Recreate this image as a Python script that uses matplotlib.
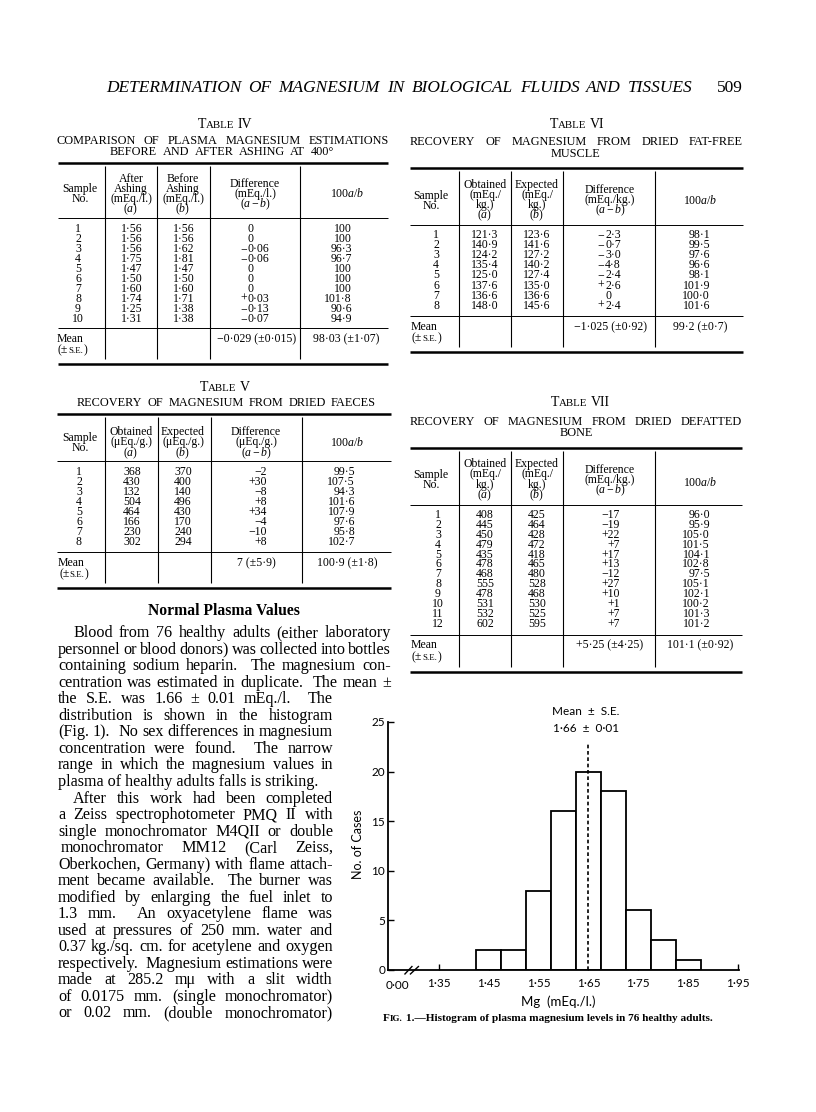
import matplotlib
matplotlib.use('Agg')
import matplotlib.pyplot as plt
from matplotlib.lines import Line2D

plt.rcParams['mathtext.fontset'] = 'custom'
plt.rcParams['mathtext.rm'] = 'Liberation Serif'
plt.rcParams['mathtext.it'] = 'Liberation Serif:italic'
plt.rcParams['mathtext.bf'] = 'Liberation Serif:bold'

# ================= DATA =================
# Fig. 1 histogram
mg_bin_centres = [1.45, 1.50, 1.55, 1.60, 1.65, 1.70, 1.75, 1.80, 1.85]
mg_counts = [2, 2, 8, 16, 20, 18, 6, 3, 1]
mg_bin_width = 0.05
mg_mean = 1.66
mg_se = 0.01
mg_mean_marker = 1.65
mg_xticks = [1.35, 1.45, 1.55, 1.65, 1.75, 1.85, 1.95]
mg_yticks = [0, 5, 10, 15, 20, 25]
mg_zero_label = "0·00"

# Table IV
t4_sample = list(range(1, 11))
t4_after = [1.56, 1.56, 1.56, 1.75, 1.47, 1.50, 1.60, 1.74, 1.25, 1.31]
t4_before = [1.56, 1.56, 1.62, 1.81, 1.47, 1.50, 1.60, 1.71, 1.38, 1.38]
t4_diff = ["0", "0", "−0·06", "−0·06", "0", "0", "0", "+0·03", "−0·13", "−0·07"]
t4_ratio = ["100", "100", "96·3", "96·7", "100", "100", "100", "101·8", "90·6", "94·9"]
t4_mean = ["−0·029 (±0·015)", "98·03 (±1·07)"]

# Table V
t5_sample = list(range(1, 9))
t5_obtained = [368, 430, 132, 504, 464, 166, 230, 302]
t5_expected = [370, 400, 140, 496, 430, 170, 240, 294]
t5_diff = ["−2", "+30", "−8", "+8", "+34", "−4", "−10", "+8"]
t5_ratio = ["99·5", "107·5", "94·3", "101·6", "107·9", "97·6", "95·8", "102·7"]
t5_mean = ["7 (±5·9)", "100·9 (±1·8)"]

# Table VI
t6_sample = list(range(1, 9))
t6_obtained = [121.3, 140.9, 124.2, 135.4, 125.0, 137.6, 136.6, 148.0]
t6_expected = [123.6, 141.6, 127.2, 140.2, 127.4, 135.0, 136.6, 145.6]
t6_diff = ["−2·3", "−0·7", "−3·0", "−4·8", "−2·4", "+2·6", "0", "+2·4"]
t6_ratio = ["98·1", "99·5", "97·6", "96·6", "98·1", "101·9", "100·0", "101·6"]
t6_mean = ["−1·025 (±0·92)", "99·2 (±0·7)"]

# Table VII
t7_sample = list(range(1, 13))
t7_obtained = [408, 445, 450, 479, 435, 478, 468, 555, 478, 531, 532, 602]
t7_expected = [425, 464, 428, 472, 418, 465, 480, 528, 468, 530, 525, 595]
t7_diff = ["−17", "−19", "+22", "+7", "+17", "+13", "−12", "+27", "+10", "+1", "+7", "+7"]
t7_ratio = ["96·0", "95·9", "105·0", "101·5", "104·1", "102·8", "97·5", "105·1", "102·1", "100·2", "101·3", "101·2"]
t7_mean = ["+5·25 (±4·25)", "101·1 (±0·92)"]

running_head = "DETERMINATION OF MAGNESIUM IN BIOLOGICAL FLUIDS AND TISSUES"
page_no = "509"
section_title = "Normal Plasma Values"
body_lines = [
    "Blood from 76 healthy adults (either laboratory",
    "personnel or blood donors) was collected into bottles",
    "containing sodium heparin.  The magnesium con-",
    "centration was estimated in duplicate.  The mean ±",
    "the S.E. was 1.66 ± 0.01 mEq./l.  The",
    "distribution is shown in the histogram",
    "(Fig. 1).  No sex differences in magnesium",
    "concentration were found.  The narrow",
    "range in which the magnesium values in",
    "plasma of healthy adults falls is striking.",
    "After this work had been completed",
    "a Zeiss spectrophotometer PMQ II with",
    "single monochromator M4QII or double",
    "monochromator MM12 (Carl Zeiss,",
    "Oberkochen, Germany) with flame attach-",
    "ment became available.  The burner was",
    "modified by enlarging the fuel inlet to",
    "1.3 mm.  An oxyacetylene flame was",
    "used at pressures of 250 mm. water and",
    "0.37 kg./sq. cm. for acetylene and oxygen",
    "respectively.  Magnesium estimations were",
    "made at 285.2 mμ with a slit width",
    "of 0.0175 mm. (single monochromator)",
    "or 0.02 mm. (double monochromator)",
]
caption_text = "1.—Histogram of plasma magnesium levels in 76 healthy adults."

# ================= DRAWING =================
W, H = 816, 1112
fig = plt.figure(figsize=(W / 100, H / 100), dpi=100)
fig.patch.set_facecolor('white')
R = fig.canvas.get_renderer()
SERIF = 'Liberation Serif'
SANS = 'Lato'
TS = 8.5
CAPS = 8.8


def X(x):
    return x / W


def Y(y):
    return 1 - y / H


def T(x, y, s, size, ha='left', family=SERIF, **kw):
    return fig.text(X(x), Y(y + 0.46 * size), s, fontsize=size, ha=ha,
                    va='baseline', family=family, **kw)


def wid(t):
    return t.get_window_extent(R).width


def justify(s, x0, x1, y, size, **kw):
    tokens = s.split(' ')
    words, weights = [], []
    pending = 0
    for tok in tokens:
        if tok == '':
            pending += 1
            continue
        if words:
            weights.append(1 + pending)
        pending = 0
        words.append(tok)
    ts = [T(x0, y, w, size, **kw) for w in words]
    ws = [wid(t) for t in ts]
    if len(words) == 1:
        return
    unit = (x1 - x0 - sum(ws)) / sum(weights)
    if unit < 1.5:
        # too long for the measure: shrink this line slightly
        for t in ts:
            t.remove()
        justify(s, x0, x1, y, size * 0.97, **kw)
        return
    x = x0
    for i, (t, w) in enumerate(zip(ts, ws)):
        t.set_x(X(x))
        x += w
        if i < len(weights):
            x += unit * weights[i]


def segs(parts, x, y, ha='left', family=SERIF, fit=None, **kw):
    big = max(p[1] for p in parts)
    scale = 1.0
    for it in range(2):
        ts = [fig.text(0, Y(y + 0.46 * big * scale), s, fontsize=sz * scale,
                       family=family, va='baseline', ha='left', **kw)
              for s, sz, g in parts]
        ws = [wid(t) for t in ts]
        total = sum(ws) + sum(p[2] for p in parts[:-1]) * scale
        if fit is None or it == 1:
            break
        for t in ts:
            t.remove()
        scale = fit / total
    if ha == 'center':
        x0 = x - total / 2
    elif ha == 'right':
        x0 = x - total
    else:
        x0 = x
    for t, w, p in zip(ts, ws, parts):
        t.set_x(X(x0))
        x0 += w + p[2] * scale


def hl(x0, x1, y, lw):
    fig.add_artist(Line2D([X(x0), X(x1)], [Y(y), Y(y)], lw=lw, color='black',
                          solid_capstyle='butt'))


def vl(x, y0, y1, lw=0.8):
    fig.add_artist(Line2D([X(x), X(x)], [Y(y0), Y(y1)], lw=lw, color='black',
                          solid_capstyle='butt'))


def frame(x0, x1, cols, y_top, y_head, y_mid, y_bot):
    hl(x0, x1, y_top, 1.8)
    hl(x0, x1, y_head, 0.7)
    hl(x0, x1, y_mid, 0.7)
    hl(x0, x1, y_bot, 1.8)
    for c in cols:
        vl(c, y_top + 3, y_bot - 5)


def rows(y0, y1, n):
    return [y0 + (y1 - y0) * i / (n - 1) for i in range(n)]


def col(vals, x, ys, ha='center'):
    for v, y in zip(vals, ys):
        T(x, y, str(v), TS, ha=ha)


def col_signed(vals, x, ys):
    for v, y in zip(vals, ys):
        if v[0] in '+−':
            T(x - 0.5, y, v[0], TS, ha='right')
            T(x, y, v[1:], TS)
        else:
            T(x, y, v, TS)


def head(lines, x, y0, dy=10):
    for i, s in enumerate(lines):
        T(x, y0 + i * dy, s, TS, ha='center')


def mean_label(x, y1, y2):
    T(x, y1, "Mean", TS)
    segs([("(±", TS, 0), ("S.E.", TS * 0.75, 0), (")", TS, 0)], x + 1, y2)


def table_title(num, xc, y):
    segs([("T", 10, 0), ("ABLE", 7.8, 3.5), (num, 10, 0)], xc, y, ha='center')


f2 = lambda v: f"{v:.2f}".replace('.', '·')
f1 = lambda v: f"{v:.1f}".replace('.', '·')
A = r"($\mathit{a}$)"
B = r"($\mathit{b}$)"
AB = r"($\mathit{a}-\mathit{b}$)"
RAT = r"100$\mathit{a/b}$"

# ---- running head ----
justify(running_head, 106, 693, 86, 12.5, style='italic')
T(743, 86, page_no, 12.5, ha='right')

# ---- Table IV ----
table_title("IV", 225, 123)
justify("COMPARISON OF PLASMA MAGNESIUM ESTIMATIONS", 56, 389, 140, CAPS)
justify("BEFORE AND AFTER ASHING AT 400°", 110, 334, 150.5, CAPS)
frame(58, 388, [105, 157, 210, 300], 163, 218, 328, 364)
head(["Sample", "No."], 80, 188)
head(["After", "Ashing", "(mEq./l.)", A], 131, 178)
head(["Before", "Ashing", "(mEq./l.)", B], 183, 178)
head(["Difference", "(mEq./l.)", AB], 255, 183)
head([RAT], 347, 193)
ys = rows(228, 318, len(t4_sample))
col(t4_sample, 78, ys)
col([f2(v) for v in t4_after], 132, ys)
col([f2(v) for v in t4_before], 184, ys)
col_signed(t4_diff, 248, ys)
col(t4_ratio, 352, ys, ha='right')
mean_label(57, 338, 349)
T(257, 338, t4_mean[0], TS, ha='center')
T(346, 338, t4_mean[1], TS, ha='center')

# ---- Table V ----
table_title("V", 225, 386)
justify("RECOVERY OF MAGNESIUM FROM DRIED FAECES", 77, 376, 402, CAPS)
frame(57, 391, [105, 158, 211, 302], 414, 461, 552, 588)
head(["Sample", "No."], 80, 437)
head(["Obtained", "(μEq./g.)", A], 131, 431, 10.5)
head(["Expected", "(μEq./g.)", B], 183, 431, 10.5)
head(["Difference", "(μEq./g.)", AB], 256, 431, 10.5)
head([RAT], 347, 442)
ys = rows(471, 541, len(t5_sample))
col(t5_sample, 79, ys)
col(t5_obtained, 132, ys)
col(t5_expected, 183, ys)
col(t5_diff, 267, ys, ha='right')
col(t5_ratio, 355, ys, ha='right')
mean_label(58, 562, 573)
T(256, 562, t5_mean[0], TS, ha='center')
T(347, 562, t5_mean[1], TS, ha='center')

# ---- Table VI ----
table_title("VI", 577, 123)
justify("RECOVERY OF MAGNESIUM FROM DRIED FAT-FREE", 410, 743, 141, CAPS)
T(576, 153, "MUSCLE", CAPS, ha='center')
frame(410, 743, [459, 511, 563, 655], 168, 225, 316, 352)
head(["Sample", "No."], 431, 195)
head(["Obtained", "(mEq./", "kg.)", A], 485, 184)
head(["Expected", "(mEq./", "kg.)", B], 537, 184)
head(["Difference", "(mEq./kg.)", AB], 610, 189)
head([RAT], 700, 200)
ys = rows(234, 305, len(t6_sample))
col(t6_sample, 436, ys)
col([f1(v) for v in t6_obtained], 485, ys)
col([f1(v) for v in t6_expected], 537, ys)
col_signed(t6_diff, 605, ys)
col(t6_ratio, 710, ys, ha='right')
mean_label(411, 326, 337)
T(611, 326, t6_mean[0], TS, ha='center')
T(700, 326, t6_mean[1], TS, ha='center')

# ---- Table VII ----
table_title("VII", 580, 401)
justify("RECOVERY OF MAGNESIUM FROM DRIED DEFATTED", 410, 742, 421, CAPS)
T(576, 432, "BONE", CAPS, ha='center')
frame(410, 742, [459, 511, 563, 655], 448, 505, 635, 672)
head(["Sample", "No."], 431, 474)
head(["Obtained", "(mEq./", "kg.)", A], 485, 463, 10.5)
head(["Expected", "(mEq./", "kg.)", B], 537, 463, 10.5)
head(["Difference", "(mEq./kg.)", AB], 610, 469)
head([RAT], 700, 482)
ys = rows(514, 623, len(t7_sample))
col(t7_sample, 438, ys)
col(t7_obtained, 485, ys)
col(t7_expected, 537, ys)
col(t7_diff, 620, ys, ha='right')
col(t7_ratio, 710, ys, ha='right')
mean_label(411, 644, 656)
T(610, 644, t7_mean[0], TS, ha='center')
T(700, 644, t7_mean[1], TS, ha='center')

# ---- body text ----
segs([(section_title, 11.5, 0)], 224, 610, ha='center', fit=151, weight='bold')
BODY = 11.6
for i, line in enumerate(body_lines):
    y = 632 + 16.52 * i
    x0 = 73 if i in (0, 10) else (61 if i == 13 else 58)
    x1 = 391 if i < 4 else 333
    if i == 9:
        T(x0, y, line, BODY)
    else:
        justify(line, x0, x1, y, BODY)

# ---- histogram ----
ax = fig.add_axes([X(388), Y(970), (739 - 388) / W, (970 - 722) / H])
ax.bar(mg_bin_centres, mg_counts, width=mg_bin_width, color='white',
       edgecolor='black', linewidth=1.3, zorder=2)
ax.plot([mg_mean_marker, mg_mean_marker], [0, 22.8], color='black', lw=1.2,
        ls=(0, (2.2, 1.6)), zorder=3)
ax.set_xlim(1.248, 1.952)
ax.set_ylim(0, 25)
ax.set_xticks(mg_xticks)
ax.set_xticklabels([f2(v) for v in mg_xticks], family=SANS, fontsize=8.5)
ax.set_yticks(mg_yticks)
ax.set_yticklabels([str(v) for v in mg_yticks], family=SANS, fontsize=8.5)
ax.tick_params(direction='in', length=4, width=1)
ax.tick_params(axis='x', pad=6)
ax.tick_params(axis='y', pad=2)
for s in ('top', 'right'):
    ax.spines[s].set_visible(False)
for s in ('left', 'bottom'):
    ax.spines[s].set_linewidth(1.3)
ax.patch.set_alpha(0)
for xa, xb in ((1.282, 1.296), (1.293, 1.309)):
    ax.plot([xa, xb], [-0.4, 0.35], color='black', lw=1, clip_on=False)
T(397, 985, mg_zero_label, 8.5, ha='center', family=SANS)
T(586, 711, "Mean  ±  S.E.", 8.5, ha='center', family=SANS)
T(586, 728, f"{f2(mg_mean)}  ±  {f2(mg_se)}", 8.5, ha='center', family=SANS)
fig.text(X(358), Y(844), "No. of Cases", fontsize=9, family=SANS,
         rotation=90, ha='center', va='center')
T(558, 1002, "Mg  (mEq./l.)", 9.5, ha='center', family=SANS)
segs([("F", 8, 0), ("IG.", 6.4, 3), (caption_text, 8, 0)], 383, 1017,
     ha='left', fit=330, weight='bold')

fig.savefig('out.png', dpi=100, facecolor='white')
